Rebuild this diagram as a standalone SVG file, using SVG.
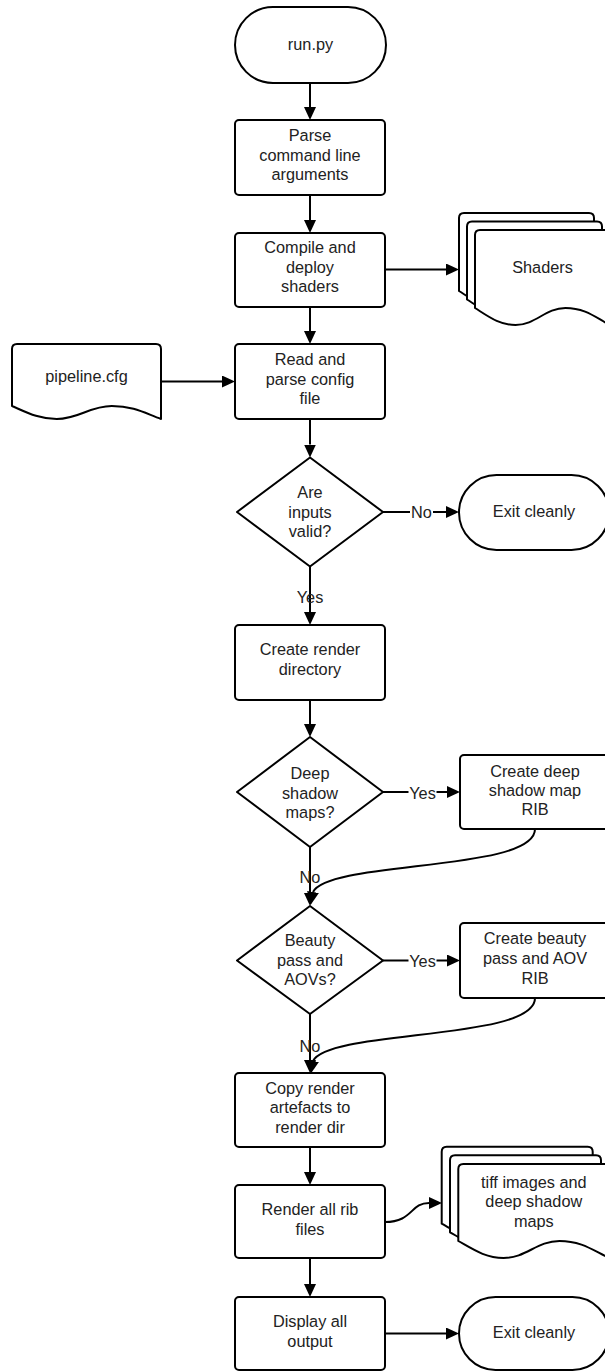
<svg xmlns="http://www.w3.org/2000/svg" xmlns:xlink="http://www.w3.org/1999/xlink" width="605" height="1372" viewBox="0 0 605 1372">
<style>
.s{fill:#fff;stroke:#000;stroke-width:2;stroke-linejoin:round}
.c{fill:none;stroke:#000;stroke-width:2}
.t{font-family:"Liberation Sans",Arial,sans-serif;font-size:16.3px;fill:#222;text-anchor:middle}
</style>
<defs>
<marker id="ah" markerUnits="userSpaceOnUse" markerWidth="14" markerHeight="12" viewBox="0 0 14 12" refX="0" refY="6" orient="auto"><path d="M0,0 L13,6 L0,12 Z" fill="#000"/></marker>
<marker id="ahd" markerUnits="userSpaceOnUse" markerWidth="14" markerHeight="12" viewBox="0 0 14 12" refX="0" refY="6" orient="100"><path d="M0,0 L13,6 L0,12 Z" fill="#000"/></marker>
<path id="sheetS" d="M0,78 L0,5 Q0,0 5,0 L130,0 Q135,0 135,5 L135,95 C121.5,88.2 110.7,78 90.45,78 C70.2,78 60.75,95 40.5,95 C24.3,95 13.5,86.5 0,78 Z"/>
<path id="sheetT" d="M0,77 L0,5 Q0,0 5,0 L146,0 Q151,0 151,5 L151,94 C135.9,87.2 123.8,77 101.2,77 C78.5,77 67.95,94 45.3,94 C27.2,94 15.1,85.5 0,77 Z"/>
</defs>

<g id="connectors">
<line class="c" x1="310" y1="83" x2="310" y2="107" marker-end="url(#ah)"/>
<line class="c" x1="310" y1="195" x2="310" y2="220" marker-end="url(#ah)"/>
<line class="c" x1="385" y1="269.5" x2="446" y2="269.5" marker-end="url(#ah)"/>
<line class="c" x1="310" y1="307" x2="310" y2="331" marker-end="url(#ah)"/>
<line class="c" x1="161" y1="381.5" x2="222" y2="381.5" marker-end="url(#ah)"/>
<line class="c" x1="310" y1="419" x2="310" y2="444.5" marker-end="url(#ah)"/>
<line class="c" x1="383" y1="512" x2="410" y2="512"/>
<line class="c" x1="433" y1="512" x2="446" y2="512" marker-end="url(#ah)"/>
<text class="t" x="421.5" y="518">No</text>
<line class="c" x1="310" y1="567" x2="310" y2="612" marker-end="url(#ah)"/>
<text class="t" x="310" y="602.5">Yes</text>
<line class="c" x1="310" y1="700" x2="310" y2="724" marker-end="url(#ah)"/>
<line class="c" x1="383" y1="792" x2="408.5" y2="792"/>
<line class="c" x1="436.5" y1="792" x2="447" y2="792" marker-end="url(#ah)"/>
<text class="t" x="422.5" y="798.5">Yes</text>
<line class="c" x1="310" y1="847" x2="310" y2="893" marker-end="url(#ah)"/>
<text class="t" x="310" y="883">No</text>
<path class="c" d="M535,829 C535,872 330,860 313,892" marker-end="url(#ahd)"/>
<line class="c" x1="383" y1="960.5" x2="408.5" y2="960.5"/>
<line class="c" x1="436.5" y1="960.5" x2="447" y2="960.5" marker-end="url(#ah)"/>
<text class="t" x="422.5" y="967">Yes</text>
<line class="c" x1="310" y1="1014" x2="310" y2="1060" marker-end="url(#ah)"/>
<text class="t" x="310" y="1051.5">No</text>
<path class="c" d="M535,998 C535,1041 330,1029 313,1061" marker-end="url(#ahd)"/>
<line class="c" x1="310" y1="1147" x2="310" y2="1172" marker-end="url(#ah)"/>
<path class="c" d="M385,1222 C413,1222 410,1203 429,1203" marker-end="url(#ah)"/>
<line class="c" x1="310" y1="1258" x2="310" y2="1284" marker-end="url(#ah)"/>
<line class="c" x1="385" y1="1333.5" x2="446" y2="1333.5" marker-end="url(#ah)"/>
</g>

<g id="run">
<rect class="s" x="235" y="7" width="151" height="76" rx="38"/>
<text class="t" x="310.5" y="49.5">run.py</text>
</g>
<g id="parse">
<rect class="s" x="235" y="120" width="150" height="75" rx="4"/>
<text class="t" x="310" y="141">Parse</text>
<text class="t" x="310" y="160.5">command line</text>
<text class="t" x="310" y="180">arguments</text>
</g>
<g id="compile">
<rect class="s" x="235" y="233" width="150" height="74" rx="4"/>
<text class="t" x="310" y="253">Compile and</text>
<text class="t" x="310" y="272.5">deploy</text>
<text class="t" x="310" y="292">shaders</text>
</g>
<g id="shaders">
<use xlink:href="#sheetS" href="#sheetS" class="s" x="459" y="213"/>
<use xlink:href="#sheetS" href="#sheetS" class="s" x="467" y="221.5"/>
<use xlink:href="#sheetS" href="#sheetS" class="s" x="475" y="230"/>
<text class="t" x="542.5" y="273">Shaders</text>
</g>
<g id="pipeline">
<path class="s" d="M12,406 L12,349 Q12,344 17,344 L156,344 Q161,344 161,349 L161,419 C146.1,413.8 134.2,406 111.8,406 C89.5,406 79,419 56.7,419 C38.8,419 26.9,412.5 12,406 Z"/>
<text class="t" x="86.5" y="382">pipeline.cfg</text>
</g>
<g id="read">
<rect class="s" x="235" y="344" width="150" height="75" rx="4"/>
<text class="t" x="310" y="365">Read and</text>
<text class="t" x="310" y="384.5">parse config</text>
<text class="t" x="310" y="404">file</text>
</g>
<g id="valid">
<polygon class="s" points="310,457.5 383,512 310,566.5 237,512"/>
<text class="t" x="310" y="498">Are</text>
<text class="t" x="310" y="517.5">inputs</text>
<text class="t" x="310" y="537">valid?</text>
</g>
<g id="exit1">
<rect class="s" x="459" y="475" width="150" height="75" rx="37.5"/>
<text class="t" x="534" y="516.5">Exit cleanly</text>
</g>
<g id="mkdir">
<rect class="s" x="235" y="625" width="150" height="75" rx="4"/>
<text class="t" x="310" y="655">Create render</text>
<text class="t" x="310" y="674.5">directory</text>
</g>
<g id="deep">
<polygon class="s" points="310,737 383,792 310,847 237,792"/>
<text class="t" x="310" y="779">Deep</text>
<text class="t" x="310" y="798.5">shadow</text>
<text class="t" x="310" y="818">maps?</text>
</g>
<g id="deeprib">
<rect class="s" x="460" y="755" width="150" height="74" rx="4"/>
<text class="t" x="535" y="777">Create deep</text>
<text class="t" x="535" y="796">shadow map</text>
<text class="t" x="535" y="815">RIB</text>
</g>
<g id="beauty">
<polygon class="s" points="310,906 383,960.5 310,1014 237,960.5"/>
<text class="t" x="310" y="946">Beauty</text>
<text class="t" x="310" y="965.5">pass and</text>
<text class="t" x="310" y="985">AOVs?</text>
</g>
<g id="beautyrib">
<rect class="s" x="460" y="923" width="150" height="75" rx="4"/>
<text class="t" x="535" y="944">Create beauty</text>
<text class="t" x="535" y="964">pass and AOV</text>
<text class="t" x="535" y="984">RIB</text>
</g>
<g id="copy">
<rect class="s" x="235" y="1073" width="150" height="74" rx="4"/>
<text class="t" x="310" y="1093.5">Copy render</text>
<text class="t" x="310" y="1113">artefacts to</text>
<text class="t" x="310" y="1133">render dir</text>
</g>
<g id="render">
<rect class="s" x="235" y="1185" width="150" height="73" rx="4"/>
<text class="t" x="310" y="1215">Render all rib</text>
<text class="t" x="310" y="1235">files</text>
</g>
<g id="tiff">
<use xlink:href="#sheetT" href="#sheetT" class="s" x="441.7" y="1146.7"/>
<use xlink:href="#sheetT" href="#sheetT" class="s" x="450" y="1155.3"/>
<use xlink:href="#sheetT" href="#sheetT" class="s" x="458.3" y="1164"/>
<text class="t" x="533.8" y="1187.5">tiff images and</text>
<text class="t" x="533.8" y="1207">deep shadow</text>
<text class="t" x="533.8" y="1226.5">maps</text>
</g>
<g id="display">
<rect class="s" x="235" y="1297" width="150" height="73" rx="4"/>
<text class="t" x="310" y="1326.5">Display all</text>
<text class="t" x="310" y="1346.5">output</text>
</g>
<g id="exit2">
<rect class="s" x="459" y="1297" width="150" height="73" rx="36.5"/>
<text class="t" x="534" y="1337.5">Exit cleanly</text>
</g>
</svg>
